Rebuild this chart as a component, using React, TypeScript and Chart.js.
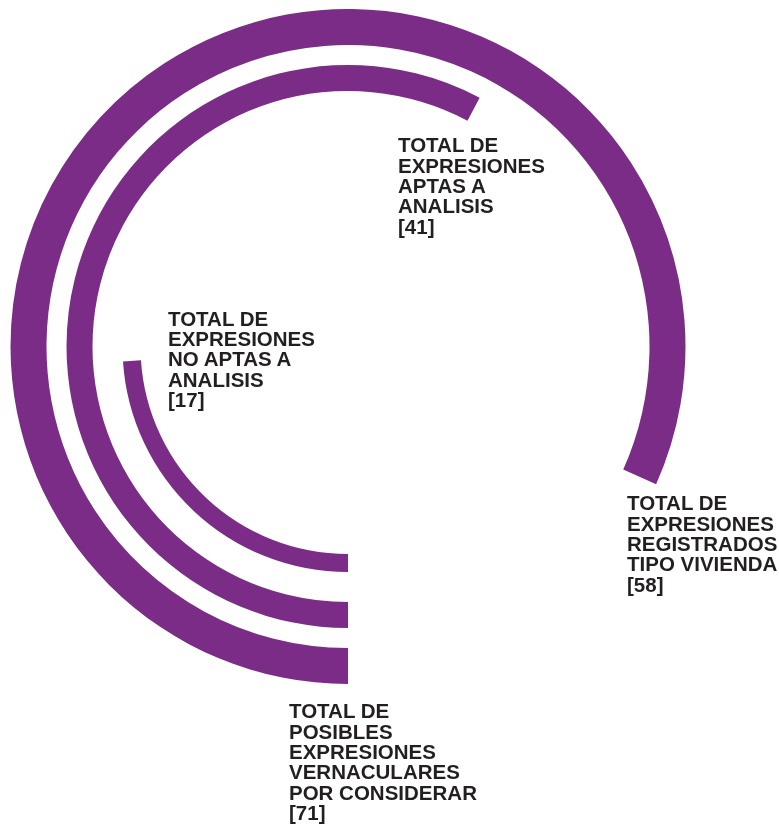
import React, { useEffect, useRef } from "react";
import { Chart, registerables } from "chart.js";

Chart.register(...registerables);

const total = 71;
const totalLabel = ["TOTAL DE", "POSIBLES", "EXPRESIONES", "VERNACULARES", "POR CONSIDERAR", "[71]"];
const categories = [
  ["TOTAL DE", "EXPRESIONES", "REGISTRADOS", "TIPO VIVIENDA"],
  ["TOTAL DE", "EXPRESIONES", "APTAS A", "ANALISIS"],
  ["TOTAL DE", "EXPRESIONES", "NO APTAS A", "ANALISIS"],
];
const values = [58, 41, 17];

const PURPLE = "#7B2C87";
const TEXT = "#231F20";
const CLEAR = "rgba(0,0,0,0)";

// ring thicknesses and gaps (relative weights)
const ringWeights = [36, 26, 18];
const gapWeights = [20, 30];

const labelPos = [
  { left: 627, top: 496 },
  { left: 398, top: 138 },
  { left: 168, top: 311.5 },
];
const totalPos = { left: 289, top: 704 };

const FONT_SIZE = 20.5;
const LINE_H = 20.3;
const CAP_OFFSET = 2.6;

export default function App() {
  const ref = useRef<HTMLCanvasElement | null>(null);

  useEffect(() => {
    if (!ref.current) return;
    const datasets: any[] = [];
    values.forEach((v, i) => {
      datasets.push({
        data: [v, total - v],
        backgroundColor: [PURPLE, CLEAR],
        borderWidth: 0,
        weight: ringWeights[i],
      });
      if (i < gapWeights.length) {
        datasets.push({
          data: [total],
          backgroundColor: [CLEAR],
          borderWidth: 0,
          weight: gapWeights[i],
        });
      }
    });
    const chart = new Chart(ref.current, {
      type: "doughnut",
      data: { labels: ["valor", "resto"], datasets },
      options: {
        animation: false,
        responsive: false,
        maintainAspectRatio: false,
        rotation: 180,
        circumference: 360,
        cutout: 207.5,
        layout: { padding: { left: 10.5, top: 9, right: 93.5, bottom: 145 } },
        plugins: { legend: { display: false }, tooltip: { enabled: false } },
        events: [],
      } as any,
    });
    return () => chart.destroy();
  }, []);

  const textStyle = (pos: { left: number; top: number }): React.CSSProperties => ({
    position: "absolute",
    left: pos.left,
    top: pos.top - CAP_OFFSET,
    fontFamily: "'Liberation Sans', Arial, sans-serif",
    fontWeight: 700,
    fontSize: FONT_SIZE,
    lineHeight: `${LINE_H}px`,
    color: TEXT,
    whiteSpace: "nowrap",
  });

  return (
    <div style={{ position: "absolute", left: 0, top: 0, width: 779, height: 829, background: "#fff", overflow: "hidden" }}>
      <canvas ref={ref} width={779} height={829} style={{ position: "absolute", left: 0, top: 0, width: 779, height: 829 }} />
      {categories.map((lines, i) => (
        <div key={i} style={textStyle(labelPos[i])}>
          {lines.map((l, j) => (
            <div key={j}>{l}</div>
          ))}
          <div>[{values[i]}]</div>
        </div>
      ))}
      <div style={textStyle(totalPos)}>
        {totalLabel.map((l, j) => (
          <div key={j}>{l}</div>
        ))}
      </div>
    </div>
  );
}
